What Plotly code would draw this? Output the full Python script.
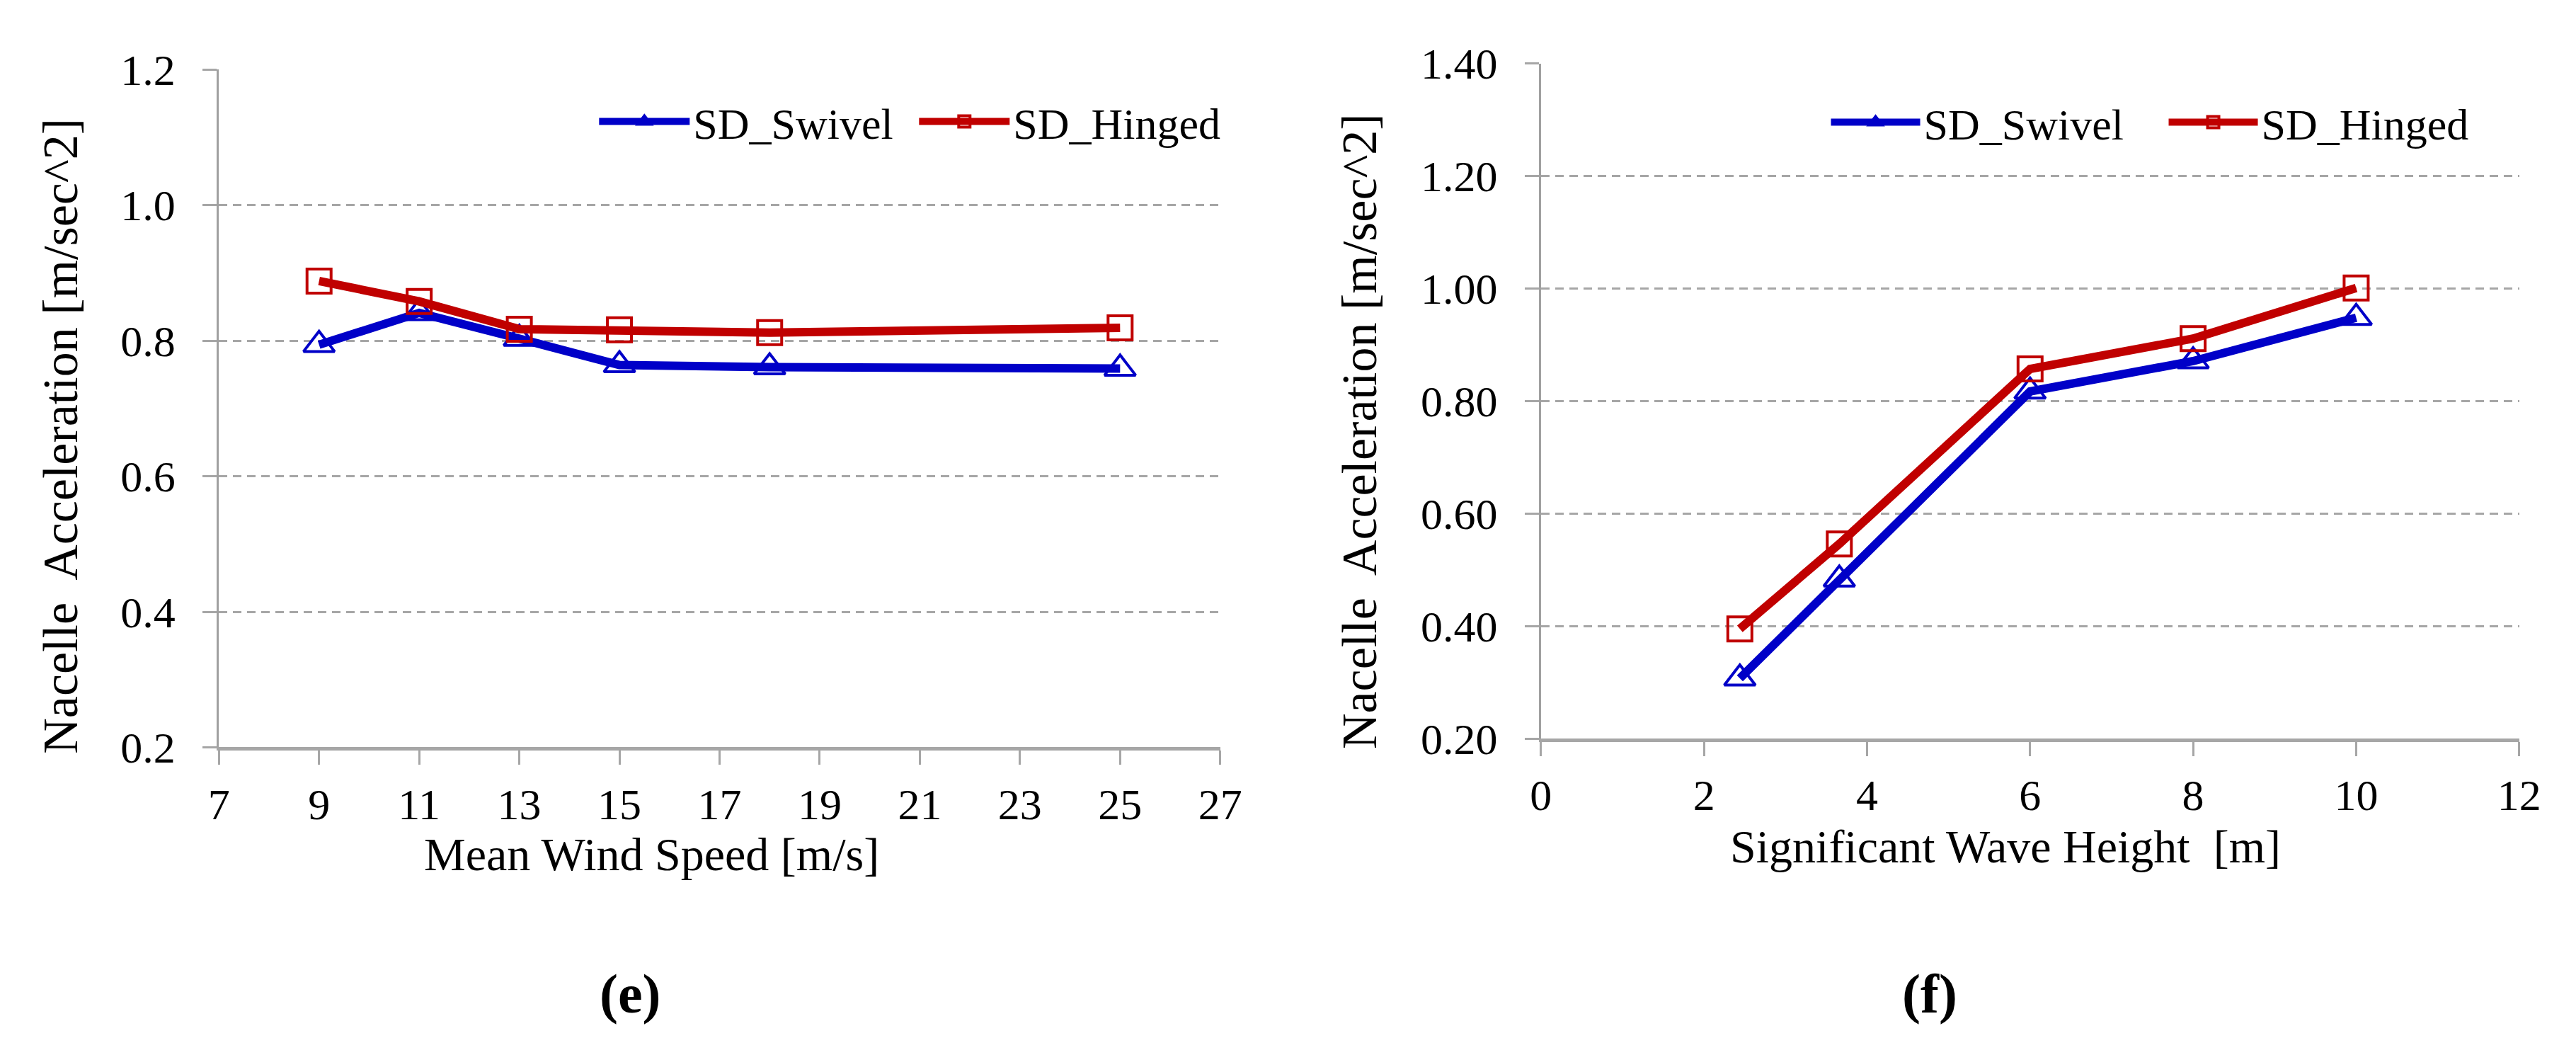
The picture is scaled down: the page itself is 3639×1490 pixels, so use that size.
import plotly.graph_objects as go

# ---- data ----
wind_speed = [9, 11, 13, 15, 18, 25]
wind_swivel = [0.794, 0.841, 0.803, 0.764, 0.761, 0.759]
wind_hinged = [0.888, 0.858, 0.817, 0.816, 0.812, 0.819]

wave_height = [2.44, 3.66, 6, 8, 10]
wave_swivel = [0.307, 0.483, 0.817, 0.871, 0.948]
wave_hinged = [0.395, 0.546, 0.857, 0.911, 1.001]

series_names = ["SD_Swivel", "SD_Hinged"]
y_title = "Nacelle  Acceleration [m/sec^2]"
x_title_e = "Mean Wind Speed [m/s]"
x_title_f = "Significant Wave Height  [m]"
panel_labels = ["(e)", "(f)"]

BLUE = "#0000C8"
RED = "#C00000"
GRID = "#a6a6a6"
FONT = "Liberation Serif, Times New Roman, serif"
W, H = 3639, 1490

fig = go.Figure()

def add_pair(x, ys, yh, xa, ya, leg, lw, ew1, ew2):
    fig.add_trace(go.Scatter(
        x=x, y=ys, name=series_names[0], mode="lines+markers",
        line=dict(color=BLUE, width=lw),
        marker=dict(symbol="triangle-up-open", size=38, color=BLUE,
                    line=dict(color=BLUE, width=4)),
        xaxis=xa, yaxis=ya, legend=leg, legendwidth=ew1))
    fig.add_trace(go.Scatter(
        x=x, y=yh, name=series_names[1], mode="lines+markers",
        line=dict(color=RED, width=lw),
        marker=dict(symbol="square-open", size=34, color=RED,
                    line=dict(color=RED, width=4)),
        xaxis=xa, yaxis=ya, legend=leg, legendwidth=ew2))

add_pair(wind_speed, wind_swivel, wind_hinged, "x", "y", "legend", 12, 309, 292)
add_pair(wave_height, wave_swivel, wave_hinged, "x2", "y2", "legend2", 12, 336, 292)

tickfont = dict(family=FONT, size=62, color="black")

xcommon = dict(showline=True, linecolor=GRID, linewidth=5, ticks="outside",
               ticklen=20, tickwidth=3, tickcolor=GRID, showgrid=False,
               zeroline=False, tickfont=tickfont, ticklabelstandoff=2)
ycommon = dict(showline=True, linecolor="#a0a0a0", linewidth=3, ticks="outside",
               ticklen=20, tickwidth=3, tickcolor=GRID, showgrid=True,
               gridcolor=GRID, gridwidth=3, griddash="12px,8px",
               zeroline=False, tickfont=tickfont, ticklabelstandoff=26)

fig.update_layout(
    width=W, height=H,
    margin=dict(l=0, r=0, t=0, b=0),
    paper_bgcolor="white", plot_bgcolor="white",
    font=dict(family=FONT, color="black"),
    showlegend=True,
    xaxis=dict(domain=[289 / W, 1722 / W], range=[7, 27], dtick=2, tick0=7,
               anchor="y", **xcommon),
    yaxis=dict(domain=[1 - 1063 / H, 1 - 60 / H], range=[0.2, 1.2], dtick=0.2,
               tick0=0.2, tickformat=".1f", anchor="x", **ycommon),
    xaxis2=dict(domain=[2181 / W, 3581 / W], range=[0, 12], dtick=2, tick0=0,
                anchor="y2", **xcommon),
    yaxis2=dict(domain=[1 - 1050 / H, 1 - 51 / H], range=[0.2, 1.4], dtick=0.2,
                tick0=0.2, tickformat=".2f", anchor="x2", **ycommon),
    legend=dict(orientation="h", x=(838 - 10) / W, xanchor="left", y=1 - 137 / H,
                yanchor="middle", font=dict(family=FONT, size=62),
                bgcolor="rgba(0,0,0,0)", itemwidth=128, borderwidth=0),
    legend2=dict(orientation="h", x=(2601 - 10) / W, xanchor="left", y=1 - 138 / H,
                 yanchor="middle", font=dict(family=FONT, size=62),
                 bgcolor="rgba(0,0,0,0)", itemwidth=126, borderwidth=0),
)

ann = []
ann.append(dict(text=y_title, x=62 / W, y=1 - 602 / H, textangle=-90))
ann.append(dict(text=y_title, x=1922 / W, y=1 - 595 / H, textangle=-90))
for a in ann:
    a.update(font=dict(family=FONT, size=70, color="black"))
ann.append(dict(text=x_title_e, x=908 / W, y=1 - 1221 / H,
                font=dict(family=FONT, size=66, color="black")))
ann.append(dict(text=x_title_f, x=2846 / W, y=1 - 1210 / H,
                font=dict(family=FONT, size=66, color="black")))
ann.append(dict(text="<b>" + panel_labels[0] + "</b>", x=878 / W, y=1 - 1428 / H,
                font=dict(family=FONT, size=78, color="black")))
ann.append(dict(text="<b>" + panel_labels[1] + "</b>", x=2737 / W, y=1 - 1428 / H,
                font=dict(family=FONT, size=78, color="black")))
for a in ann:
    a.update(xref="paper", yref="paper", showarrow=False, xanchor="center",
             yanchor="middle")
fig.update_layout(annotations=ann)

fig.write_html("out.html")
